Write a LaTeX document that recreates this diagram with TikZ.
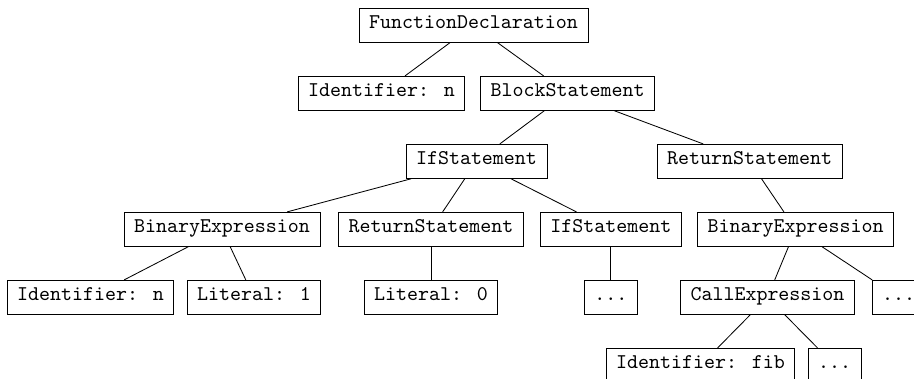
\documentclass[tikz,border=0pt]{standalone}
\usepackage{tikz}
\usetikzlibrary{positioning}

\begin{document}
\begin{tikzpicture}[
        x=0.47733pt, y=-0.47733pt,
        ast/.style={rectangle, draw, font=\ttfamily, inner xsep=4.77pt, inner ysep=3.33pt, text height=6.2pt, text depth=3.35pt},
        branch/.style={draw, line width=0.4pt}
        ]
        \useasboundingbox (0,0) rectangle (914,379);

        % Nodes
        \node (fundecl) [ast] at (473.5,25.3) {FunctionDeclaration};
        \node (ident) [ast] at (381.5,93.3) {Identifier: n};
        \node (block) [ast] at (567.7,93.3) {BlockStatement};
        \node (ifstmt) [ast] at (476.5,161.3) {IfStatement};
        \node (ret) [ast] at (749.7,161.3) {ReturnStatement};
        \node (binexp) [ast] at (222,229.3) {BinaryExpression};
        \node (retzero) [ast] at (431,229.3) {ReturnStatement};
        \node (ifnested) [ast] at (610.8,229.3) {IfStatement};
        \node (binexptwo) [ast] at (795.7,229.3) {BinaryExpression};
        \node (identn) [ast] at (90.5,297.3) {Identifier: n};
        \node (litone) [ast] at (254,297.3) {Literal: 1};
        \node (litzero) [ast] at (431,297.3) {Literal: 0};
        \node (dotsif) [ast] at (610.8,297.3) {...};
        \node (call) [ast] at (767.5,297.3) {CallExpression};
        \node (dotsbin) [ast] at (898.5,297.3) {...};
        \node (identfib) [ast] at (700.5,365.3) {Identifier: fib};
        \node (dotscall) [ast] at (834.7,365.3) {...};

        % Edges
        \draw [branch] (fundecl) -- (ident);
        \draw [branch] (fundecl) -- (block);
        \draw [branch] (block) -- (ifstmt);
        \draw [branch] (block) -- (ret);
        \draw [branch] (ifstmt) -- (binexp);
        \draw [branch] (ifstmt) -- (retzero);
        \draw [branch] (ifstmt) -- (ifnested);
        \draw [branch] (ret) -- (binexptwo);
        \draw [branch] (binexp) -- (identn);
        \draw [branch] (binexp) -- (litone);
        \draw [branch] (retzero) -- (litzero);
        \draw [branch] (ifnested) -- (dotsif);
        \draw [branch] (binexptwo) -- (call);
        \draw [branch] (binexptwo) -- (dotsbin);
        \draw [branch] (call) -- (identfib);
        \draw [branch] (call) -- (dotscall);

    \end{tikzpicture}
\end{document}
